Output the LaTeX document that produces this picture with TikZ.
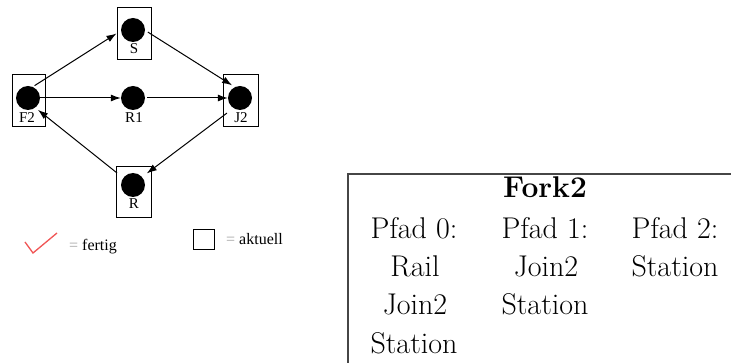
\documentclass[tikz,border=0pt]{standalone}
\usepackage{fontspec}
\newfontfamily\graphfont{Liberation Serif}
\usetikzlibrary{arrows.meta,calc}
\definecolor{eqgray}{RGB}{165,165,165}
\definecolor{checkred}{RGB}{240,85,85}
\definecolor{framegray}{RGB}{70,70,70}
\begin{document}
\begin{tikzpicture}[x=1pt,y=-1pt,
  stationbox/.style={draw,line width=1pt,minimum width=34pt,minimum height=52pt,inner sep=0pt},
  dot/.style={circle,fill=black,minimum size=24pt,inner sep=0pt},
  lbl/.style={font=\graphfont\fontsize{15}{17}\selectfont,anchor=base,inner sep=0pt},
  legend/.style={font=\graphfont\fontsize{16}{18}\selectfont,anchor=base west,inner sep=0pt},
  conn/.style={line width=1pt,-{Latex[length=10pt,width=7pt]}},
  cell/.style={font=\fontsize{30}{36}\selectfont,anchor=base,inner sep=0pt}]
\useasboundingbox (0,0) rectangle (731,363);

% current-position boxes
\node[stationbox] (Sbox)  at (134,33.5) {};
\node[stationbox,minimum width=33pt] (F2box) at (28.5,101) {};
\node[stationbox,minimum width=35pt] (J2box) at (240.5,101) {};
\node[stationbox,minimum width=35pt,minimum height=51pt] (Rbox) at (133.5,192.5) {};

% track elements
\node[dot] (Sc)  at (133,30) {};
\node[dot] (F2c) at (28,98) {};
\node[dot] (R1c) at (133,98) {};
\node[dot] (J2c) at (240,98) {};
\node[dot] (Rc)  at (133,185) {};

% element labels
\node[lbl] (Sl)  at (134,54)  {S};
\node[lbl] (F2l) at (27,123)  {F2};
\node[lbl] (R1l) at (134,123) {R1};
\node[lbl] (J2l) at (241,123) {J2};
\node[lbl] (Rl)  at (134,209) {R};

% connections
\draw[conn] ($(F2c)+(62:14pt)$) -- (Sbox.west);
\draw[conn] ($(Sc)+(-8:15pt)$) -- ($(J2c)+(122:15pt)$);
\draw[conn] (F2c.east) -- (R1c.west);
\draw[conn,shorten <=2pt] (R1c.east) -- (J2c.west);
\draw[conn] ($(J2c)+(229:20pt)$) -- ($(Rc)+(40:18pt)$);
\draw[conn] ($(Rc)+(143:20pt)$) -- ($(F2c)+(-50:15.5pt)$);

% legend
\coordinate (ck1) at (25,242);
\coordinate (ck2) at (33,253);
\coordinate (ck3) at (57,233);
\draw[checkred,line width=1.3pt] (ck1) -- (ck2) -- (ck3);
\node[legend] (fertig) at (69,251) {{\color{eqgray}=} fertig};
\node[draw,line width=1pt,minimum width=21pt,minimum height=20pt,inner sep=0pt] (legbox) at (203.5,240) {};
\node[legend] (aktuell) at (226,245) {{\color{eqgray}=} aktuell};

% path table
\draw[framegray,line width=1.2pt] (348,363) -- (348,174) -- (731,174);
\node[cell] (title) at (545,198) {\bfseries Fork2};
\node[cell] (p0) at (414,239) {Pfad 0:};
\node[cell] (p1) at (545,239) {Pfad 1:};
\node[cell] (p2) at (675,239) {Pfad 2:};
\node[cell] (a0) at (415,277) {Rail};
\node[cell] (a1) at (546,277) {Join2};
\node[cell] (a2) at (675,277) {Station};
\node[cell] (b0) at (415,315) {Join2};
\node[cell] (b1) at (545,315) {Station};
\node[cell] (c0) at (414,353) {Station};
\end{tikzpicture}
\end{document}
